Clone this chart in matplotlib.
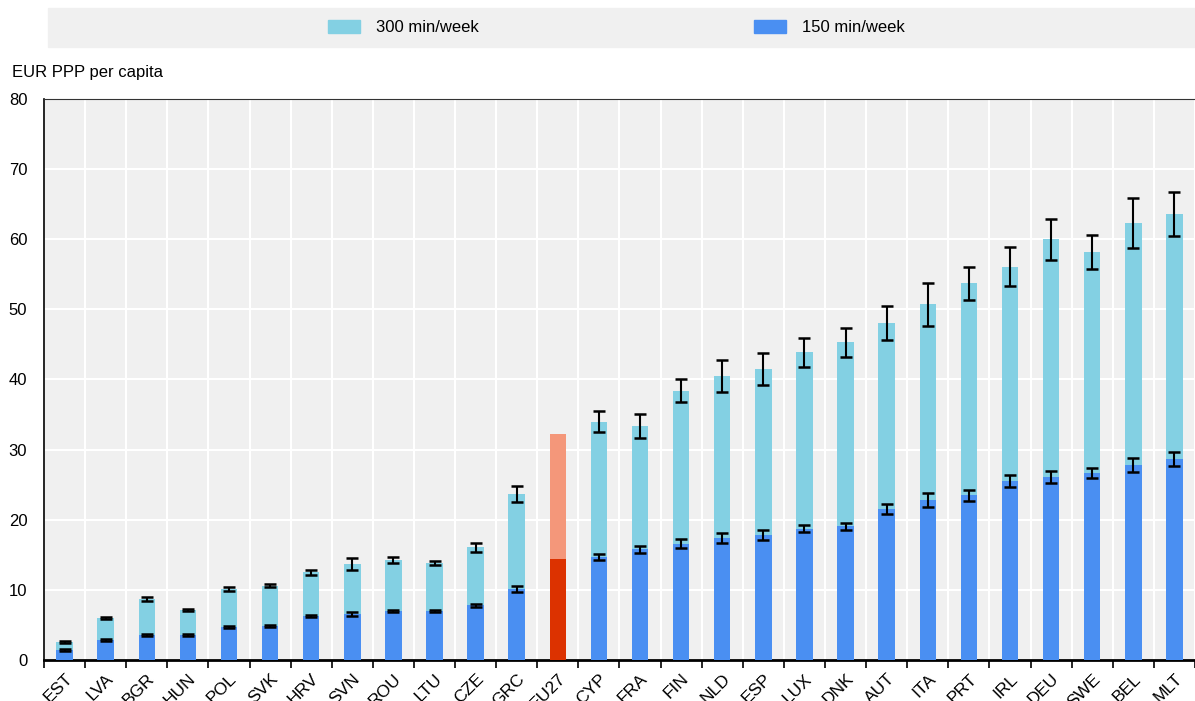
import numpy as np
import matplotlib
matplotlib.use("Agg")
from matplotlib import pyplot as plt
from matplotlib.patches import Rectangle, Patch

plt.rcParams['font.family'] = ['Liberation Sans', 'DejaVu Sans']

countries = ['EST', 'LVA', 'BGR', 'HUN', 'POL', 'SVK', 'HRV', 'SVN', 'ROU',
             'LTU', 'CZE', 'GRC', 'EU27', 'CYP', 'FRA', 'FIN', 'NLD', 'ESP',
             'LUX', 'DNK', 'AUT', 'ITA', 'PRT', 'IRL', 'DEU', 'SWE', 'BEL',
             'MLT']

# 150 min/week scenario
v150 = [1.4, 2.8, 3.6, 3.6, 4.7, 4.9, 6.3, 6.6, 7.0, 7.0, 7.8, 10.1, 14.4,
        14.7, 15.8, 16.6, 17.4, 17.8, 18.7, 19.1, 21.5, 22.8, 23.5, 25.5,
        26.1, 26.7, 27.8, 28.6]
e150 = [0.15, 0.15, 0.15, 0.15, 0.15, 0.15, 0.15, 0.3, 0.15, 0.15, 0.25,
        0.4, 0.0, 0.4, 0.5, 0.6, 0.7, 0.7, 0.5, 0.5, 0.7, 1.0, 0.8, 0.9,
        0.8, 0.7, 1.0, 1.0]

# 300 min/week scenario
v300 = [2.6, 6.0, 8.7, 7.1, 10.1, 10.6, 12.5, 13.7, 14.3, 13.8, 16.1, 23.7,
        32.2, 34.0, 33.4, 38.4, 40.5, 41.5, 43.9, 45.3, 48.1, 50.7, 53.7,
        56.1, 60.0, 58.2, 62.3, 63.6]
e300 = [0.15, 0.15, 0.25, 0.15, 0.3, 0.25, 0.4, 0.8, 0.4, 0.3, 0.65, 1.1,
        0.0, 1.5, 1.7, 1.6, 2.3, 2.3, 2.05, 2.1, 2.4, 3.1, 2.4, 2.75, 2.9,
        2.45, 3.6, 3.2]

c300, c150 = '#83D0E3', '#4A8FF2'
c300_eu, c150_eu = '#F4977A', '#DC3200'

fig = plt.figure(figsize=(11.95, 7.01), dpi=100)
ax = fig.add_axes([0.0368, 0.0585, 0.9632, 0.8003])
ax.set_facecolor('#F0F0F0')

x = np.arange(len(countries))
w = 0.4
is_eu = np.array([c == 'EU27' for c in countries])
col300 = [c300_eu if e else c300 for e in is_eu]
col150 = [c150_eu if e else c150 for e in is_eu]

# the 300 min bar is the full height, 150 min drawn over it
ax.bar(x, v300, width=w, color=col300, zorder=2)
ax.bar(x, v150, width=w, color=col150, zorder=3)

mask = ~is_eu
ekw = dict(fmt='none', ecolor='black', elinewidth=1.5, capsize=4,
           capthick=1.8, zorder=4)
ax.errorbar(x[mask], np.array(v300)[mask], yerr=np.array(e300)[mask], **ekw)
ax.errorbar(x[mask], np.array(v150)[mask], yerr=np.array(e150)[mask], **ekw)

ax.set_xlim(-0.5, len(countries) - 0.5)
ax.set_ylim(0, 80)
ax.set_yticks(range(0, 81, 10))
ax.set_xticks(x)
ax.set_xticklabels(countries, rotation=45, ha='right',
                   rotation_mode='anchor', fontsize=12.5)
ax.set_xticks(np.arange(-0.5, len(countries), 1), minor=True)
ax.tick_params(axis='x', which='major', length=0, pad=8)
ax.tick_params(axis='x', which='minor', length=6, width=1.2, color='black',
               direction='out')
ax.tick_params(axis='y', length=0, pad=12, labelsize=12)

ax.grid(axis='y', color='white', lw=1.5, zorder=1)
ax.grid(axis='x', which='minor', color='white', lw=1.5, zorder=1)
ax.set_axisbelow(True)

ax.spines['right'].set_visible(False)
ax.spines['top'].set_linewidth(0.8)
ax.spines['top'].set_color('#333333')
ax.spines['left'].set_linewidth(1.2)
ax.spines['bottom'].set_linewidth(2)

fig.text(0.01, 0.896, 'EUR PPP per capita', fontsize=12, va='center')

# legend band
fig.patches.append(Rectangle((0.040, 0.933), 0.96, 0.0556,
                             transform=fig.transFigure, color='#F0F0F0',
                             zorder=0))
handles = [Patch(color=c300), Patch(color=c150)]
fig.legend(handles, ['300 min/week', '150 min/week'], ncol=2,
           loc='center', bbox_to_anchor=(0.516, 0.961), frameon=False,
           fontsize=12, handlelength=1.9, handleheight=0.8,
           handletextpad=1.0, columnspacing=16.5)

fig.savefig('out.png', dpi=100)
